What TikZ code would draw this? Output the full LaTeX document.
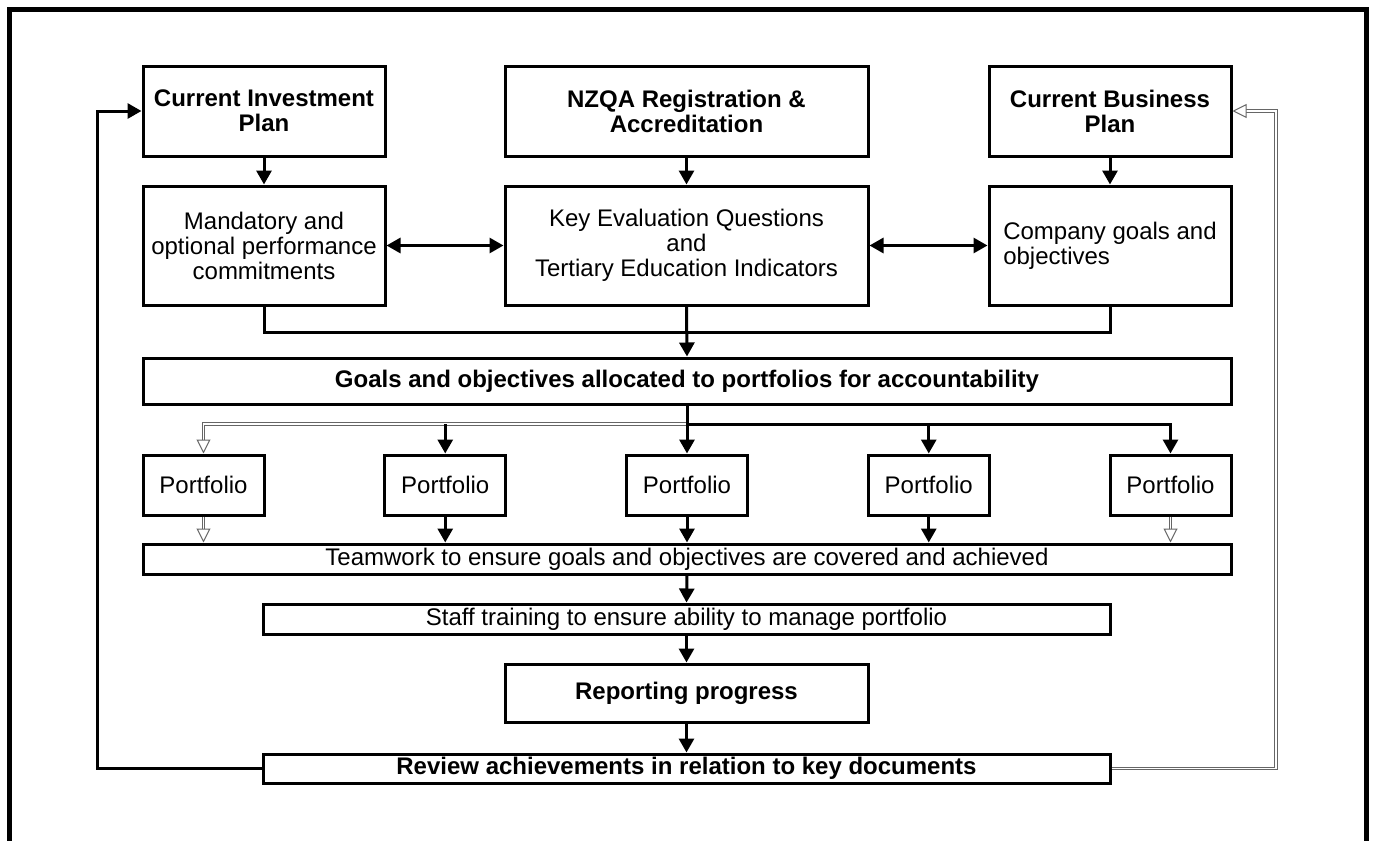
\documentclass[tikz,border=0pt]{standalone}
\usepackage{fontspec}
\setmainfont{Liberation Sans}
\usetikzlibrary{arrows.meta}
\begin{document}
\begin{tikzpicture}[x=0.5pt,y=-0.5pt,
  every node/.style={font=\fontsize{12}{12.5}\selectfont},
  box/.style={draw, line width=1.5pt, inner sep=0pt, align=center},
  hd/.style={font=\fontsize{12}{12.5}\selectfont\bfseries},
  link/.style={line width=1.5pt},
  arr/.style={link, -{Triangle[length=7pt,width=7.5pt]}},
  darr/.style={link, {Triangle[length=7pt,width=7.5pt]}-{Triangle[length=7pt,width=7.5pt]}},
  dbl/.style={draw=black!60, line width=0.5pt, double=white, double distance=0.6pt},
  oarr/.style={dbl, -{Triangle[open,length=7pt,width=7pt,fill=white]}},
]
\useasboundingbox (0,0) rectangle (1373,841);
% outer frame, open at the foot of the page
\draw[line width=2.5pt] (9.5,860) -- (9.5,9.5) -- (1366.5,9.5) -- (1366.5,860);

% source documents
\node[box, hd, minimum width=121pt, minimum height=45pt] (cip) at (264,111) {Current Investment\\Plan};
\node[box, hd, minimum width=181.5pt, minimum height=45pt] (nzqa) at (686.5,111) {NZQA Registration \&\\Accreditation};
\node[box, hd, minimum width=121pt, minimum height=45pt] (cbp) at (1110,111) {Current Business\\Plan};

% derived requirements
\node[box, minimum width=121pt, minimum height=59.5pt] (mand) at (264,245.5) {Mandatory and\\optional performance\\commitments};
\node[box, minimum width=181.5pt, minimum height=59.5pt] (keq) at (686.5,245.5) {Key Evaluation Questions\\and\\Tertiary Education Indicators};
\node[box, minimum width=121pt, minimum height=59.5pt, align=left] (comp) at (1110,245.5) {Company goals and\\objectives};

\node[box, hd, minimum width=544pt, minimum height=23pt] (goals) at (687,381) {Goals and objectives allocated to portfolios for accountability};

% portfolios
\foreach \i/\x in {1/203.5, 2/445.25, 3/687, 4/928.75, 5/1170.5}
  \node[box, minimum width=60.5pt, minimum height=30pt] (p\i) at (\x,485) {Portfolio};

\node[box, minimum width=544pt, minimum height=15pt] (team) at (687,559) {Teamwork to ensure goals and objectives are covered and achieved};
\node[box, minimum width=423.5pt, minimum height=15pt] (staff) at (686.5,619) {Staff training to ensure ability to manage portfolio};
\node[box, hd, minimum width=181.5pt, minimum height=29pt] (report) at (686.5,693) {Reporting progress};
\node[box, hd, minimum width=423.5pt, minimum height=14.5pt] (review) at (686.5,768.5) {Review achievements in relation to key documents};

% routing points
\coordinate (merge) at (686.5,332);
\coordinate (branch) at (687,424);
\coordinate (fl) at (97,440);
\coordinate (fr) at (1276,440);

% top rows
\draw[arr] (cip.south) -- (mand.north);
\draw[arr] (nzqa.south) -- (keq.north);
\draw[arr] (cbp.south) -- (comp.north);
\draw[darr] (mand.east) -- (keq.west);
\draw[darr] (keq.east) -- (comp.west);
\draw[link] (mand.south) |- (merge) -| (comp.south);
\draw[arr] (keq.south) -- (goals.north);

% allocation to portfolios
\draw[link] (goals.south) -- (branch);
\draw[arr] (branch) -| (p5.north);
\draw[oarr] (branch) -| (p1.north);
\draw[arr] (goals.south) -- (p3.north);
\draw[arr] (branch -| p2.north) -- (p2.north);
\draw[arr] (branch -| p4.north) -- (p4.north);

% portfolios into teamwork
\draw[oarr] (p1.south) -- (p1.south |- team.north);
\draw[arr] (p2.south) -- (p2.south |- team.north);
\draw[arr] (p3.south) -- (team.north);
\draw[arr] (p4.south) -- (p4.south |- team.north);
\draw[oarr] (p5.south) -- (p5.south |- team.north);

% lower chain
\draw[arr] (team.south) -- (staff.north);
\draw[arr] (staff.south) -- (report.north);
\draw[arr] (report.south) -- (review.north);

% feedback loops
\draw[arr] (review.west) -- (review.west -| fl) -- (cip.west -| fl) -- (cip.west);
\draw[oarr] (review.east) -- (review.east -| fr) -- (cbp.east -| fr) -- (cbp.east);
\end{tikzpicture}
\end{document}
